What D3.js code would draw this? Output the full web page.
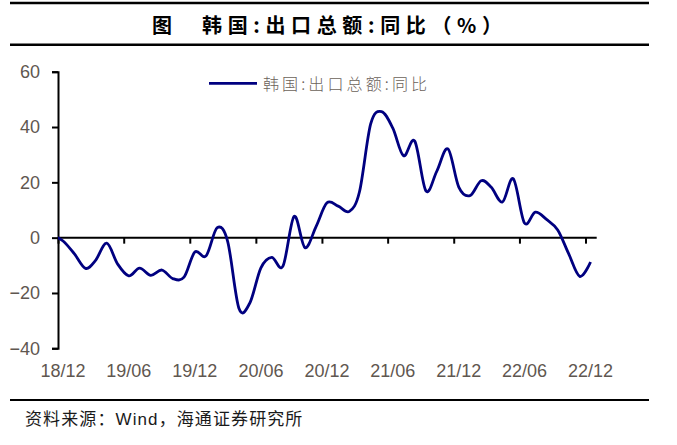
<!DOCTYPE html>
<html>
<head>
<meta charset="utf-8">
<script src="https://cdn.jsdelivr.net/npm/d3@7/dist/d3.min.js"></script>
<style>
  html, body { margin: 0; padding: 0; background: #ffffff; }
  svg { display: block; }
</style>
</head>
<body>
<svg id="chart" width="677" height="445"></svg>
<script>
// ---- data ----
const months = [
  "2018-11","2018-12",
  "2019-01","2019-02","2019-03","2019-04","2019-05","2019-06","2019-07","2019-08","2019-09","2019-10","2019-11","2019-12",
  "2020-01","2020-02","2020-03","2020-04","2020-05","2020-06","2020-07","2020-08","2020-09","2020-10","2020-11","2020-12",
  "2021-01","2021-02","2021-03","2021-04","2021-05","2021-06","2021-07","2021-08","2021-09","2021-10","2021-11","2021-12",
  "2022-01","2022-02","2022-03","2022-04","2022-05","2022-06","2022-07","2022-08","2022-09","2022-10","2022-11","2022-12"
];
const exportYoY = [
  0.8, -1.2,
  -5.8, -11.1, -8.2, -2.0, -9.5, -13.8, -11.0, -13.6, -11.7, -14.8, -14.3, -5.2,
  -6.6, 3.6, -1.4, -25.5, -23.7, -10.9, -7.1, -10.3, 7.7, -3.6, 4.1, 12.6,
  11.4, 9.5, 16.6, 41.1, 45.6, 39.7, 29.6, 34.9, 16.9, 24.0, 32.1, 18.3,
  15.2, 20.6, 18.2, 12.9, 21.3, 5.3, 9.2, 6.6, 2.8, -5.7, -14.0, -8.8
];
const xTickLabels = ["18/12","19/06","19/12","20/06","20/12","21/06","21/12","22/06","22/12"];
const yTicks = [-40, -20, 0, 20, 40, 60];
const seriesName = "韩国:出口总额:同比";
const titleLead = "图";
const titleText = "韩国:出口总额:同比（%）";
const sourceText = "资料来源：Wind，海通证券研究所";

// ---- layout ----
const svg = d3.select("#chart");
const W = 677, H = 445;
const plot = { left: 58, right: 596.7, top: 71.7, bottom: 348.3 };

svg.append("rect").attr("width", W).attr("height", H).attr("fill", "#ffffff");

const parseMonth = d3.timeParse("%Y-%m");
const midMonth = m => { const d = parseMonth(m); return new Date(d.getFullYear(), d.getMonth(), 15); };
const tickDate = l => { const [yy, mm] = l.split("/"); return new Date(2000 + (+yy), (+mm) - 1, 1); };

const x = d3.scaleTime()
  .domain([new Date(2018, 11, 1), new Date(2023, 0, 1)])
  .range([plot.left, plot.right]);
const y = d3.scaleLinear().domain([-40, 60]).range([plot.bottom, plot.top]);

const data = months.map((m, i) => ({ date: midMonth(m), v: exportYoY[i] }));

// ---- title block ----
svg.append("line").attr("x1", 10).attr("x2", 649).attr("y1", 3).attr("y2", 3)
  .attr("stroke", "#000").attr("stroke-width", 2.5);
svg.append("line").attr("x1", 10).attr("x2", 649).attr("y1", 44.7).attr("y2", 44.7)
  .attr("stroke", "#000").attr("stroke-width", 2.5);
svg.append("text").attr("x", 152).attr("y", 24)
  .attr("dominant-baseline", "central")
  .attr("font-family", "'Noto Sans CJK SC', sans-serif").attr("font-weight", 700)
  .attr("font-size", 20).attr("fill", "#000").text(titleLead);
svg.append("text").attr("x", 202).attr("y", 24)
  .attr("dominant-baseline", "central")
  .attr("font-family", "'Noto Sans CJK SC', sans-serif").attr("font-weight", 700)
  .attr("font-size", 20).attr("fill", "#000")
  .attr("textLength", 300).attr("lengthAdjust", "spacing")
  .text(titleText);

// ---- footer ----
svg.append("line").attr("x1", 10).attr("x2", 649).attr("y1", 400).attr("y2", 400)
  .attr("stroke", "#000").attr("stroke-width", 2.2);
svg.append("text").attr("x", 25).attr("y", 419)
  .attr("dominant-baseline", "central")
  .attr("font-family", "'Liberation Sans', 'Noto Sans CJK SC', sans-serif")
  .attr("font-size", 17).attr("letter-spacing", 1.1).attr("fill", "#1a1a1a")
  .text(sourceText);

// ---- axes ----
const axisColor = "#000";
const labelColor = "#5f5750";

// y axis
const yAxis = svg.append("g").attr("transform", `translate(${plot.left},0)`)
  .call(d3.axisLeft(y).tickValues(yTicks).tickSize(6).tickPadding(12).tickFormat(d3.format("d")));
yAxis.select(".domain").attr("stroke", axisColor).attr("stroke-width", 2);
yAxis.selectAll(".tick line").attr("stroke", axisColor).attr("stroke-width", 2);
yAxis.selectAll(".tick text")
  .attr("font-family", "'Liberation Sans', Arial, sans-serif")
  .attr("font-size", 18).attr("fill", labelColor);

// x axis at y=0, ticks pointing down
const xTicks = xTickLabels.map(tickDate);
const xAxis = svg.append("g").attr("transform", `translate(0,${y(0)})`)
  .call(d3.axisBottom(x).tickValues(xTicks).tickSize(6).tickFormat(() => ""));
xAxis.select(".domain").attr("stroke", axisColor).attr("stroke-width", 2)
  .attr("d", `M${plot.left},0H${plot.right}`);
xAxis.selectAll(".tick line").attr("stroke", axisColor).attr("stroke-width", 2);

// x labels at bottom, centred on mid-month
svg.append("g").selectAll("text").data(xTickLabels).join("text")
  .attr("x", l => { const d = tickDate(l); return x(new Date(d.getFullYear(), d.getMonth(), 15)); })
  .attr("y", 371)
  .attr("text-anchor", "middle").attr("dominant-baseline", "central")
  .attr("font-family", "'Liberation Sans', Arial, sans-serif")
  .attr("font-size", 18).attr("fill", labelColor)
  .text(l => l);

// ---- line ----
svg.append("clipPath").attr("id", "plotClip")
  .append("rect").attr("x", plot.left).attr("y", 0)
  .attr("width", plot.right - plot.left).attr("height", H);

const line = d3.line()
  .x(d => x(d.date)).y(d => y(d.v))
  .curve(d3.curveCardinal.tension(0));

svg.append("path").datum(data)
  .attr("clip-path", "url(#plotClip)")
  .attr("fill", "none").attr("stroke", "#000080")
  .attr("stroke-width", 2.8).attr("stroke-linejoin", "round")
  .attr("d", line);

// ---- legend ----
svg.append("line").attr("x1", 209).attr("x2", 257).attr("y1", 83.3).attr("y2", 83.3)
  .attr("stroke", "#000080").attr("stroke-width", 2.8);
svg.append("text").attr("x", 263).attr("y", 83.3)
  .attr("dominant-baseline", "central")
  .attr("font-family", "'Noto Sans CJK SC', sans-serif").attr("font-weight", 300)
  .attr("font-size", 16).attr("fill", "#6b625a")
  .attr("textLength", 164).attr("lengthAdjust", "spacing")
  .text(seriesName);
</script>
</body>
</html>
